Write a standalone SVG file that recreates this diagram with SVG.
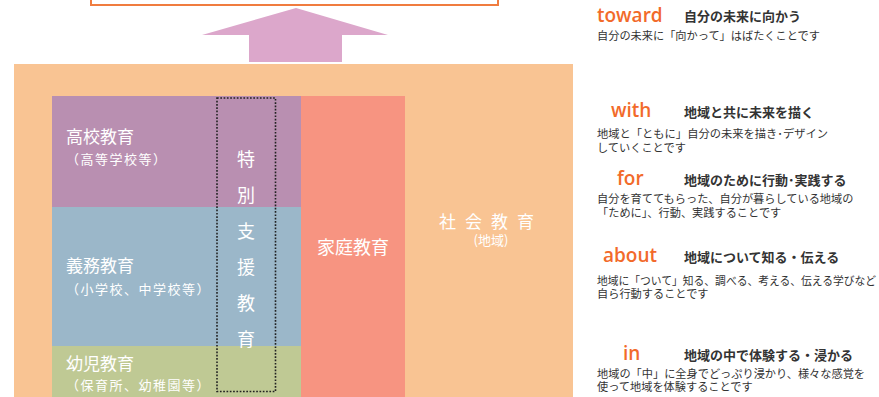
<svg xmlns="http://www.w3.org/2000/svg" width="879" height="397" viewBox="0 0 879 397">
<style>
.w{fill:#fff;font-family:"Noto Sans CJK JP","Noto Sans",sans-serif}
.t1{font-size:17px}
.t2{font-size:13px;letter-spacing:1.5px}
.v{font-size:18px;text-anchor:middle}
.en{fill:#f26a2a;font-family:"Open Sans","Liberation Sans",sans-serif;font-weight:600;font-size:19px}
.hd{fill:#333;font-family:"Noto Sans CJK JP",sans-serif;font-size:13px;font-weight:bold}
.ds{fill:#333;font-family:"Noto Sans CJK JP",sans-serif;font-size:11.2px}
</style>
<rect width="879" height="397" fill="#fff"/>
<g id="goal">
<rect x="91" y="-10" width="407" height="15" fill="#fff" stroke="#f07c3f" stroke-width="2"/>
</g>
<g id="connectors">
<polygon points="296,8 388,35 342,35 342,62 249,62 249,35 202,35" fill="#dca7cb"/>
</g>
<g id="social">
<rect x="14" y="64" width="559" height="333" fill="#f9c493"/>
<text class="w" x="491" y="228" font-size="17" letter-spacing="9" text-anchor="middle">社会教育</text>
<text class="w" x="491" y="245" font-size="13" text-anchor="middle">(地域)</text>
</g>
<g id="high">
<rect x="52" y="96" width="249" height="111" fill="#b98fb1"/>
<text class="w t1" x="66" y="143">高校教育</text>
<text class="w t2" x="66" y="164">（高等学校等）</text>
</g>
<g id="compulsory">
<rect x="52" y="207" width="249" height="139" fill="#9bb7c9"/>
<text class="w t1" x="66" y="272">義務教育</text>
<text class="w t2" x="66" y="294">（小学校、中学校等）</text>
</g>
<g id="infant">
<rect x="52" y="346" width="249" height="51" fill="#bfc994"/>
<text class="w t1" x="66" y="370">幼児教育</text>
<text class="w t2" x="66" y="390">（保育所、幼稚園等）</text>
</g>
<g id="home">
<rect x="301" y="96" width="104" height="301" fill="#f79481"/>
<text class="w" x="353" y="254" font-size="18" text-anchor="middle">家庭教育</text>
</g>
<g id="special">
<rect x="217" y="98" width="58.5" height="293.5" fill="none" stroke="#222" stroke-width="1.6" stroke-dasharray="1.7 1.6"/>
<text class="w v" x="246" y="166">特</text>
<text class="w v" x="246" y="202">別</text>
<text class="w v" x="246" y="238">支</text>
<text class="w v" x="246" y="274">援</text>
<text class="w v" x="246" y="310">教</text>
<text class="w v" x="246" y="346">育</text>
</g>
<g id="toward">
<text class="en" x="597" y="21.5">toward</text>
<text class="hd" x="684" y="21">自分の未来に向かう</text>
<text class="ds" x="597" y="40" textLength="223" lengthAdjust="spacingAndGlyphs">自分の未来に「向かって」はばたくことです</text>
</g>
<g id="with">
<text class="en" x="611" y="117">with</text>
<text class="hd" x="684" y="117">地域と共に未来を描く</text>
<text class="ds" x="597" y="138" textLength="231" lengthAdjust="spacingAndGlyphs">地域と「ともに」自分の未来を描き･デザイン</text>
<text class="ds" x="597" y="152">していくことです</text>
</g>
<g id="for">
<text class="en" x="617" y="185">for</text>
<text class="hd" x="684" y="185">地域のために行動･実践する</text>
<text class="ds" x="597" y="203">自分を育ててもらった、自分が暮らしている地域の</text>
<text class="ds" x="597" y="217">「ために」、行動、実践することです</text>
</g>
<g id="about">
<text class="en" x="603" y="262">about</text>
<text class="hd" x="684" y="262">地域について知る・伝える</text>
<text class="ds" x="597" y="285" textLength="279" lengthAdjust="spacingAndGlyphs">地域に「ついて」知る、調べる、考える、伝える学びなど</text>
<text class="ds" x="597" y="298">自ら行動することです</text>
</g>
<g id="in">
<text class="en" x="623" y="360">in</text>
<text class="hd" x="684" y="360">地域の中で体験する・浸かる</text>
<text class="ds" x="597" y="378">地域の「中」に全身でどっぷり浸かり、様々な感覚を</text>
<text class="ds" x="597" y="391">使って地域を体験することです</text>
</g>
</svg>
